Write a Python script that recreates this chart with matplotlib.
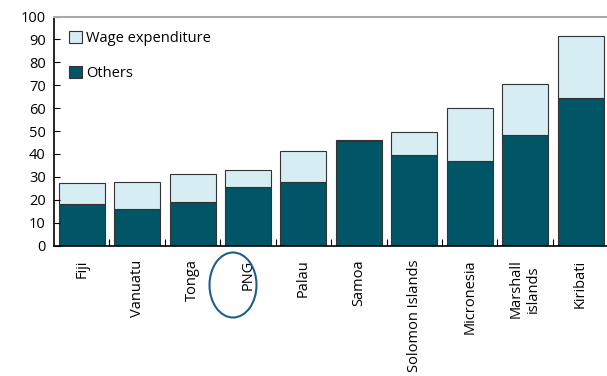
import numpy as np
import matplotlib.pyplot as plt
from matplotlib.patches import Ellipse

plt.rcParams['font.family'] = ['Open Sans', 'DejaVu Sans']

countries = ['Fiji', 'Vanuatu', 'Tonga', 'PNG', 'Palau', 'Samoa',
             'Solomon Islands', 'Micronesia', 'Marshall\nislands', 'Kiribati']
others = [18.2, 16.1, 19.0, 25.5, 27.6, 45.7, 39.4, 36.9, 48.2, 64.3]
total = [27.1, 27.6, 31.2, 32.8, 41.2, 46.2, 49.7, 60.0, 70.5, 91.3]
wage = [t - o for t, o in zip(total, others)]

dark = '#005566'
light = '#d5edf3'

fig = plt.figure(figsize=(6.07, 3.76), dpi=100)
ax = fig.add_axes([0.089, 0.347, 0.913, 0.609])

x = np.arange(len(countries))
ax.bar(x, others, width=0.83, color=dark, edgecolor='#333333', linewidth=0.8,
       label='Others')
ax.bar(x, wage, bottom=others, width=0.83, color=light, edgecolor='#333333',
       linewidth=0.8, label='Wage expenditure')

ax.set_xlim(-0.5, len(countries) - 0.5)
ax.set_ylim(0, 100)
ax.set_yticks(range(0, 101, 10))
ax.tick_params(axis='y', direction='in', length=4, labelsize=10.5, pad=6)

ax.set_xticks(x)
ax.set_xticklabels(countries, rotation=90, fontsize=10.5, va='top',
                   ha='center', multialignment='center')
ax.tick_params(axis='x', length=0, pad=10)
ax.set_xticks(x[:-1] + 0.5, minor=True)
ax.tick_params(axis='x', which='minor', direction='in', length=5, width=0.8)

ax.spines['right'].set_visible(False)
ax.spines['top'].set_color('#aaaaaa')
ax.spines['top'].set_linewidth(1.5)
ax.spines['left'].set_linewidth(1.2)
ax.spines['bottom'].set_linewidth(1.2)

h, l = ax.get_legend_handles_labels()
ax.legend(h[::-1], l[::-1], loc='upper left', frameon=False, fontsize=10.5,
          handlelength=0.9, handleheight=0.9, handletextpad=0.3,
          labelspacing=1.35, bbox_to_anchor=(0.0, 1.0), borderaxespad=0.6)

# circle around PNG label
ell = Ellipse((233 / 607, 1 - 285 / 376), 47 / 607, 65 / 376,
              transform=fig.transFigure, fill=False, edgecolor='#1f5f8b',
              linewidth=1.5)
fig.patches.append(ell)

plt.savefig('out.png', dpi=100)
